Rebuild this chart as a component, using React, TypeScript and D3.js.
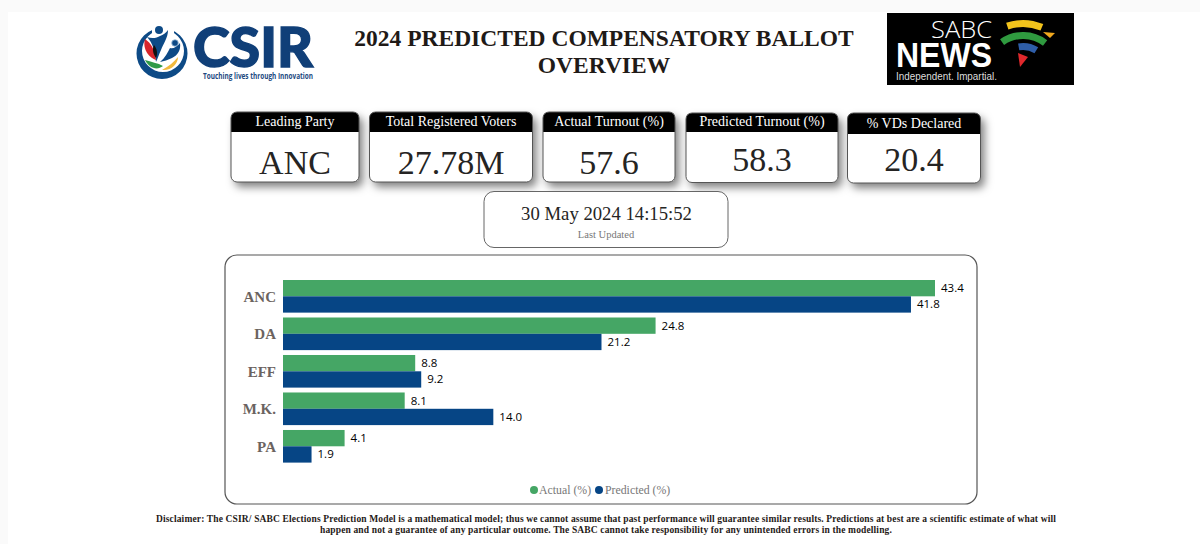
import * as d3 from "d3";

const parties = ["ANC", "DA", "EFF", "M.K.", "PA"];
const seriesNames = ["Actual (%)", "Predicted (%)"];
const actual = [43.4, 24.8, 8.8, 8.1, 4.1];
const predicted = [41.8, 21.2, 9.2, 14.0, 1.9];

const cardTitles = ["Leading Party", "Total Registered Voters", "Actual Turnout (%)", "Predicted Turnout (%)", "% VDs Declared"];
const cardValues = ["ANC", "27.78M", "57.6", "58.3", "20.4"];

const titleLines = ["2024 PREDICTED COMPENSATORY BALLOT", "OVERVIEW"];
const updatedAt = "30 May 2024 14:15:52";
const disclaimer = [
  "Disclaimer: The CSIR/ SABC Elections Prediction Model is a mathematical model; thus we cannot assume that past performance will guarantee similar results. Predictions at best are a scientific estimate of what will",
  "happen and not a guarantee of any particular outcome. The SABC cannot take responsibility for any unintended errors in the modelling.",
];

const SERIF = "'Liberation Serif', serif";
const SANS = "'Open Sans', sans-serif";
const GREEN = "#45a665";
const NAVY = "#064585";

// x, y, w, h, header height, title baseline, value baseline
const cardBoxes = [
  [231, 112, 128, 70, 20, 126, 174],
  [369.5, 112, 163, 70, 20, 126, 174],
  [543, 112, 132, 70, 20, 126, 174],
  [686, 113, 152, 69.5, 19, 126, 171],
  [847.5, 113, 133, 70, 21, 128, 171],
];

const x = d3.scaleLinear().domain([0, 43.4]).range([283, 935]);
const y = d3.scaleBand().domain(parties).range([280, 462.6]).paddingInner(0.13);
const sub = d3.scaleBand().domain(seriesNames).range([0, y.bandwidth()]);
const colour = d3.scaleOrdinal<string>().domain(seriesNames).range([GREEN, NAVY]);
const rows = [actual, predicted];

const ribbon = d3.arc();

function CsirLogo() {
  return (
    <g>
      <path
        fillRule="evenodd"
        d="M136.5 53.5 a25.5 25.5 0 1 0 51 0 a25.5 25.5 0 1 0 -51 0Z M142 51 a21 21 0 1 0 42 0 a21 21 0 1 0 -42 0Z"
        fill="#0d4a86"
      />
      <rect x="152" y="24" width="22" height="10" fill="#fff" />
      <circle cx="159" cy="30" r="4" fill="#0d4a86" />
      <path d="M147 37 C152 39 157 38 160 36 C163 35 166 33 168 30 C168 38 163 44 161 50 C159 54 158 58 156 62 C155 52 153 43 147 37Z" fill="#0d4a86" />
      <circle cx="175" cy="43" r="3.3" fill="#0d4a86" stroke="#9fc0dd" strokeWidth="0.8" />
      <path d="M160 62 C165 58 168 52 170 48 C173 49 177 47 180 43 C181 50 178 55 172 58 C168 60 164 61 160 62Z" fill="#0d4a86" />
      <path d="M145 39 C151 43 155 50 156 60 C150 58 142 50 145 39Z" fill="#d8262c" />
      <path d="M154 45 C157 49 158 53 156 58 C153 54 152 49 154 45Z" fill="#111" />
      <path d="M145 60 C151 62 158 63 163 66 C157 71 149 68 145 60Z" fill="#2f9a48" />
      <path d="M162 70 C169 66 174 62 178 57 C178 64 171 71 162 70Z" fill="#f0b93e" />
      <text
        x="193"
        y="67"
        fontFamily="Lato, sans-serif"
        fontWeight="900"
        fontSize="56"
        fill="#103f78"
        stroke="#103f78"
        strokeWidth="1.4"
        textLength="120"
        lengthAdjust="spacingAndGlyphs"
      >
        CSIR
      </text>
      <text x="203" y="79" fontFamily={SANS} fontWeight="700" fontSize="8" fill="#1d4a7f" textLength="110" lengthAdjust="spacingAndGlyphs">
        Touching lives through Innovation
      </text>
    </g>
  );
}

function SabcLogo() {
  const cx = 1023;
  const cy = 72;
  const bands: [number, number, number, number, string][] = [
    [45, 52, -0.33, 0.4, "#f3c41c"],
    [33, 40, -0.61, 0.65, "#2f9a3f"],
    [22, 29, -0.17, 0.55, "#2f5ea8"],
  ];
  return (
    <g>
      <rect x="887" y="13" width="187" height="72" fill="#000" />
      <text x="931" y="38" fontFamily={SANS} fontWeight="300" fontSize="24" fill="#fff" textLength="61" lengthAdjust="spacingAndGlyphs">
        SABC
      </text>
      <text x="896" y="67" fontFamily="'Liberation Sans', sans-serif" fontWeight="700" fontSize="35" fill="#fff" textLength="96" lengthAdjust="spacingAndGlyphs">
        NEWS
      </text>
      <text x="896" y="79.5" fontFamily="'Liberation Sans', sans-serif" fontSize="11" fill="#ddd" textLength="101" lengthAdjust="spacingAndGlyphs">
        Independent. Impartial.
      </text>
      {bands.map(([innerRadius, outerRadius, startAngle, endAngle, fill], i) => (
        <path
          key={i}
          transform={`translate(${cx},${cy})`}
          d={ribbon({ innerRadius, outerRadius, startAngle, endAngle }) ?? ""}
          fill={fill}
        />
      ))}
      <path d="M1043 32 L1055 33 L1050 38Z" fill="#f0a81e" />
      <path d="M1018 53 L1028 57 L1020 67Z" fill="#e0282c" />
    </g>
  );
}

export default function App() {
  return (
    <svg
      width={1200}
      height={544}
      viewBox="0 0 1200 544"
      style={{ position: "absolute", left: 0, top: 0, background: "#fafafa" }}
    >
      <defs>
        <filter id="cardShadow" x="-15%" y="-15%" width="135%" height="150%">
          <feDropShadow dx="4" dy="5" stdDeviation="4" floodColor="#000" floodOpacity="0.5" />
        </filter>
      </defs>

      <rect x={8} y={12} width={1192} height={532} fill="#fff" />

      <CsirLogo />
      <SabcLogo />

      {titleLines.map((line, i) => (
        <text key={line} x={604} y={46 + i * 27} textAnchor="middle" fontFamily={SERIF} fontWeight="700" fontSize="23.5" fill="#1f1a17">
          {line}
        </text>
      ))}

      {cardTitles.map((title, i) => {
        const [bx, by, bw, bh, hh, ty, vy] = cardBoxes[i];
        const mid = bx + bw / 2;
        return (
          <g key={title}>
            <rect x={bx} y={by} width={bw} height={bh} rx={6} fill="#fff" filter="url(#cardShadow)" />
            <path
              d={`M${bx} ${by + hh} V${by + 6} Q${bx} ${by} ${bx + 6} ${by} H${bx + bw - 6} Q${bx + bw} ${by} ${bx + bw} ${by + 6} V${by + hh}Z`}
              fill="#000"
            />
            <rect x={bx} y={by} width={bw} height={bh} rx={6} fill="none" stroke="#555" strokeWidth={1} />
            <text x={mid} y={ty} textAnchor="middle" fontFamily={SERIF} fontSize="14" fill="#fff">
              {title}
            </text>
            <text x={mid} y={vy} textAnchor="middle" fontFamily={SERIF} fontSize="34" fill="#252423">
              {cardValues[i]}
            </text>
          </g>
        );
      })}

      <rect x={484} y={191.5} width={244} height={56} rx={10} fill="#fff" stroke="#666" strokeWidth={1} />
      <text x={606.5} y={220} textAnchor="middle" fontFamily={SERIF} fontSize="18.7" fill="#252423">
        {updatedAt}
      </text>
      <text x={606} y={238} textAnchor="middle" fontFamily={SERIF} fontSize="10.5" fill="#777">
        Last Updated
      </text>

      <rect x={225} y={255} width={752} height={249} rx={12} fill="#fff" stroke="#555" strokeWidth={1.2} />

      {parties.map((party) => (
        <text
          key={party}
          x={276}
          y={(y(party) ?? 0) + y.bandwidth() / 2 + 5.5}
          textAnchor="end"
          fontFamily={SERIF}
          fontWeight="700"
          fontSize="15"
          fill="#6b6360"
        >
          {party}
        </text>
      ))}

      {seriesNames.map((name, s) => (
        <g key={name}>
          {parties.map((party, i) => {
            const top = (y(party) ?? 0) + (sub(name) ?? 0);
            const value = rows[s][i];
            return (
              <g key={party}>
                <rect x={x(0)} y={top} width={x(value) - x(0)} height={sub.bandwidth()} fill={colour(name)} />
                <text x={x(value) + 6} y={top + sub.bandwidth() / 2 + 4} fontFamily={SANS} fontWeight="500" fontSize="11.5" fill="#000">
                  {value.toFixed(1)}
                </text>
              </g>
            );
          })}
        </g>
      ))}

      <circle cx={534} cy={490} r={4} fill={GREEN} />
      <text x={539} y={494} fontFamily={SERIF} fontSize="11.8" fill="#777">
        {seriesNames[0]}
      </text>
      <circle cx={599} cy={490} r={4} fill={NAVY} />
      <text x={605} y={494} fontFamily={SERIF} fontSize="11.8" fill="#777">
        {seriesNames[1]}
      </text>

      {disclaimer.map((line, i) => (
        <text key={i} x={606} y={522 + i * 11} textAnchor="middle" fontFamily={SERIF} fontWeight="700" fontSize="9.5" letterSpacing="0.14" fill="#1f1a17">
          {line}
        </text>
      ))}
    </svg>
  );
}
